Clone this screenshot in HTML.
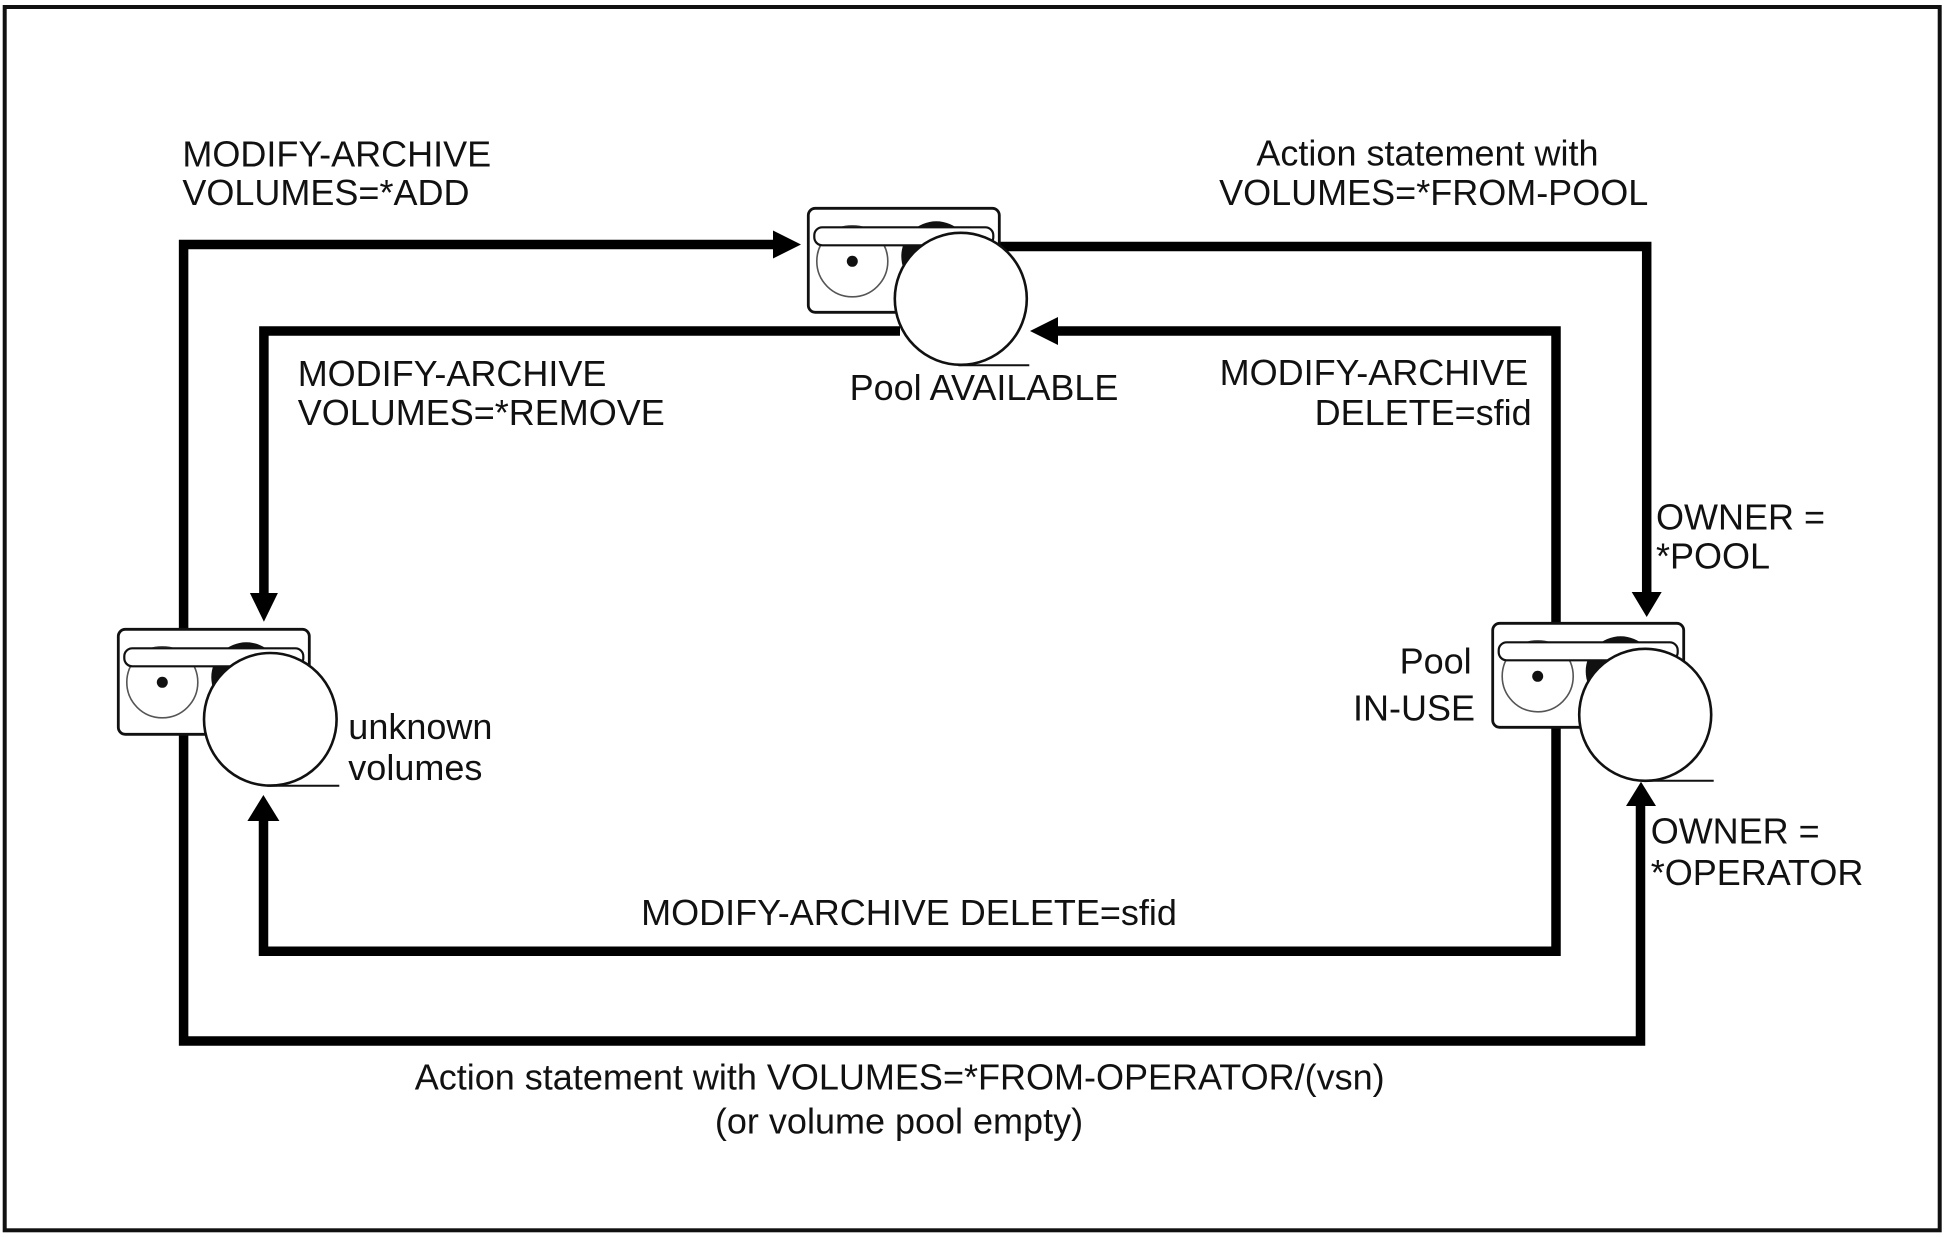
<!DOCTYPE html>
<html>
<head>
<meta charset="utf-8">
<style>
  html, body { margin: 0; padding: 0; background: #fff; }
  svg { display: block; }
  text { font-family: "Liberation Sans", Arial, sans-serif; font-size: 36px; fill: #111; }
</style>
</head>
<body>
<svg width="1948" height="1237" viewBox="0 0 1948 1237" xmlns="http://www.w3.org/2000/svg">
  <rect x="0" y="0" width="1948" height="1237" fill="#fff"/>
  <!-- outer frame -->
  <rect x="4.7" y="7" width="1935" height="1223.3" fill="none" stroke="#111" stroke-width="4"/>

  <!-- thick connector lines -->
  <g fill="none" stroke="#000" stroke-width="9.5" stroke-linejoin="miter" stroke-linecap="butt">
    <!-- outer loop: bottom-right up to IN-USE, along bottom, up left, to top device -->
    <polyline points="1640.5,803 1640.5,1041 183.6,1041 183.6,244.5 776,244.5"/>
    <!-- top device right to IN-USE (down) -->
    <polyline points="990,246.5 1646.7,246.5 1646.7,595"/>
    <!-- inner: from top device left, down to unknown volumes -->
    <polyline points="900,331 263.9,331 263.9,596"/>
    <!-- inner: from bottom-left up, across bottom, up right, to top device -->
    <polyline points="263.5,818 263.5,951.3 1556,951.3 1556,331 1055,331"/>
  </g>

  <!-- arrowheads -->
  <g fill="#000">
    <polygon points="801,244.5 773,230.5 773,258.5"/>
    <polygon points="263.9,621.7 249.9,593 277.9,593"/>
    <polygon points="1030,331 1058,317 1058,345"/>
    <polygon points="263.4,795 247.4,821 279.4,821"/>
    <polygon points="1646.7,617 1631.7,592 1661.7,592"/>
    <polygon points="1641,781.7 1626,806 1656,806"/>
  </g>

  <!-- device: Pool AVAILABLE -->
  <g transform="translate(808.3,208.3)">
    <rect x="0" y="0" width="191" height="104" rx="7" fill="#fff" stroke="#111" stroke-width="2.8"/>
    <circle cx="128" cy="48" r="35" fill="#111"/>
    <circle cx="44" cy="53" r="35.5" fill="none" stroke="#555" stroke-width="1.6"/>
    <circle cx="44" cy="53" r="5.5" fill="#111"/>
    <rect x="6" y="19" width="179" height="18" rx="8" fill="#fff" stroke="#111" stroke-width="2.2"/>
    <circle cx="152.5" cy="90.5" r="66" fill="#fff" stroke="#111" stroke-width="2.6"/>
    <line x1="150" y1="157" x2="221" y2="157" stroke="#111" stroke-width="2"/>
  </g>

  <!-- device: unknown volumes -->
  <g transform="translate(118.3,629.3)">
    <rect x="0" y="0" width="191" height="105" rx="7" fill="#fff" stroke="#111" stroke-width="2.8"/>
    <circle cx="128" cy="48" r="35" fill="#111"/>
    <circle cx="44" cy="53" r="35.5" fill="none" stroke="#555" stroke-width="1.6"/>
    <circle cx="44" cy="53" r="5.5" fill="#111"/>
    <rect x="6" y="19" width="179" height="18" rx="8" fill="#fff" stroke="#111" stroke-width="2.2"/>
    <circle cx="152" cy="90" r="66.3" fill="#fff" stroke="#111" stroke-width="2.6"/>
    <line x1="149" y1="156.5" x2="221" y2="156.5" stroke="#111" stroke-width="2"/>
  </g>

  <!-- device: Pool IN-USE -->
  <g transform="translate(1492.7,623.3)">
    <rect x="0" y="0" width="191" height="104" rx="7" fill="#fff" stroke="#111" stroke-width="2.8"/>
    <circle cx="128" cy="48" r="35" fill="#111"/>
    <circle cx="45" cy="53" r="35.5" fill="none" stroke="#555" stroke-width="1.6"/>
    <circle cx="45" cy="53" r="5.5" fill="#111"/>
    <rect x="6" y="19" width="179" height="18" rx="8" fill="#fff" stroke="#111" stroke-width="2.2"/>
    <circle cx="152.5" cy="91.5" r="66" fill="#fff" stroke="#111" stroke-width="2.6"/>
    <line x1="149" y1="157.5" x2="221" y2="157.5" stroke="#111" stroke-width="2"/>
  </g>

  <!-- labels -->
  <text x="182.4" y="166.7">MODIFY-ARCHIVE</text>
  <text x="182.4" y="205">VOLUMES=*ADD</text>

  <text x="1427.5" y="165.7" text-anchor="middle">Action statement with</text>
  <text x="1433.7" y="205" text-anchor="middle">VOLUMES=*FROM-POOL</text>

  <text x="297.7" y="386">MODIFY-ARCHIVE</text>
  <text x="297.7" y="425">VOLUMES=*REMOVE</text>

  <text x="984" y="400" text-anchor="middle">Pool AVAILABLE</text>

  <text x="1528.3" y="385" text-anchor="end">MODIFY-ARCHIVE</text>
  <text x="1531.7" y="425" text-anchor="end">DELETE=sfid</text>

  <text x="1656" y="529.3">OWNER =</text>
  <text x="1656" y="568.3">*POOL</text>

  <text x="1471.7" y="673.3" text-anchor="end">Pool</text>
  <text x="1475" y="720.7" text-anchor="end">IN-USE</text>

  <text x="348.3" y="739">unknown</text>
  <text x="348.3" y="780">volumes</text>

  <text x="1650.7" y="843.3">OWNER =</text>
  <text x="1650.7" y="885">*OPERATOR</text>

  <text x="909" y="925" text-anchor="middle">MODIFY-ARCHIVE DELETE=sfid</text>

  <text x="899.7" y="1089.5" text-anchor="middle">Action statement with VOLUMES=*FROM-OPERATOR/(vsn)</text>
  <text x="899" y="1133.3" text-anchor="middle">(or volume pool empty)</text>
</svg>
</body>
</html>
